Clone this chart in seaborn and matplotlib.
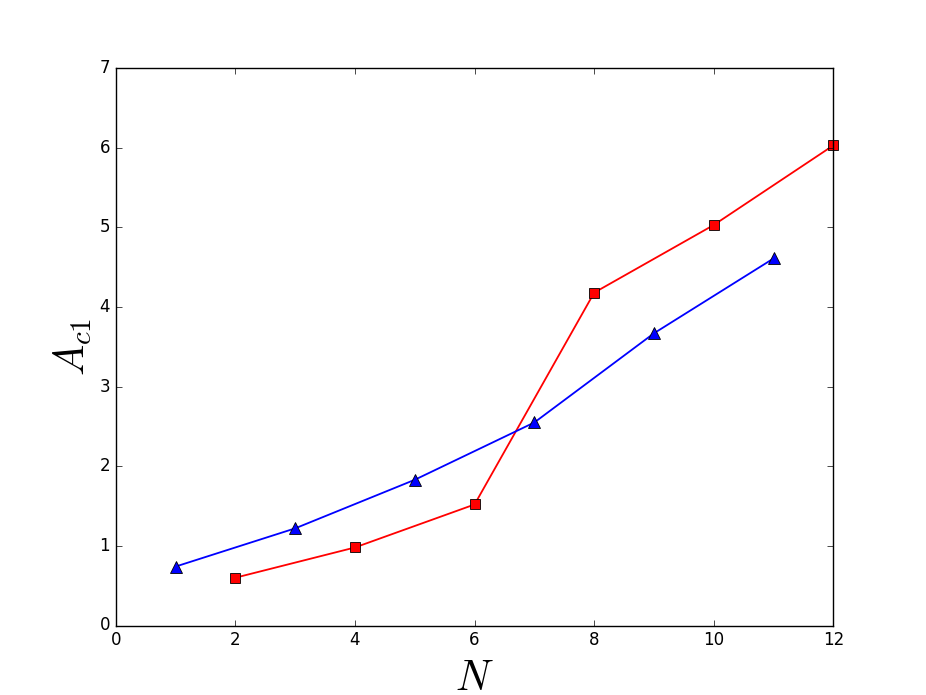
import pandas as pd
import matplotlib
matplotlib.use("Agg")
import matplotlib.pyplot as plt
import seaborn as sns

red_n = [2, 4, 6, 8, 10, 12]
red_a = [0.60, 0.98, 1.52, 4.18, 5.03, 6.03]
blue_n = [1, 3, 5, 7, 9, 11]
blue_a = [0.74, 1.22, 1.83, 2.55, 3.67, 4.61]

plt.style.use("classic")
plt.rcParams["font.family"] = ["DejaVu Sans"]
plt.rcParams["mathtext.fontset"] = "cm"

red_df = pd.DataFrame({"N": red_n, "A": red_a})
blue_df = pd.DataFrame({"N": blue_n, "A": blue_a})

fig, ax = plt.subplots(figsize=(9.26, 6.95), dpi=100)
fig.subplots_adjust(left=0.125, right=0.9, bottom=0.1, top=0.902)

sns.lineplot(data=red_df, x="N", y="A", ax=ax, color="red", marker="s", linewidth=1.3,
             markersize=7, markeredgecolor="black", markeredgewidth=0.6, clip_on=False)
sns.lineplot(data=blue_df, x="N", y="A", ax=ax, color="blue", marker="^", linewidth=1.3,
             markersize=8, markeredgecolor="black", markeredgewidth=0.6, clip_on=False)

ax.set_xlim(0, 12)
ax.set_ylim(0, 7)
ax.set_xlabel(r"$N$", fontsize=30, labelpad=6)
ax.set_ylabel(r"$A_{c1}$", fontsize=30, labelpad=4)
ax.tick_params(labelsize=12)

plt.savefig("out.png", dpi=100)
